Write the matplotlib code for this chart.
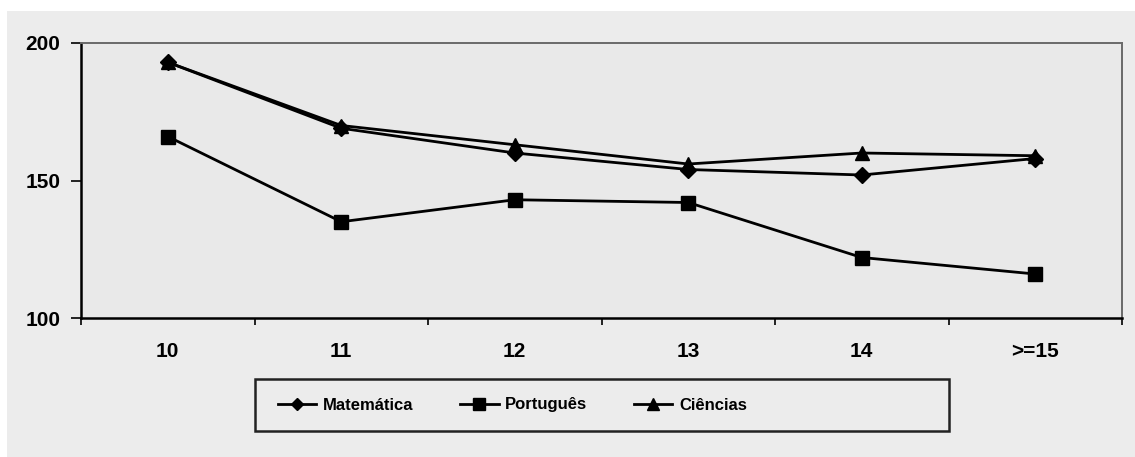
import matplotlib
import numpy as np
from matplotlib.patches import Rectangle

matplotlib.use("Agg")
import matplotlib.pyplot as plt

categories = ["10", "11", "12", "13", "14", ">=15"]
matematica = [193, 169, 160, 154, 152, 158]
portugues = [166, 135, 143, 142, 122, 116]
ciencias = [193, 170, 163, 156, 160, 159]

plt.rcParams["font.family"] = ["Liberation Sans", "DejaVu Sans"]
plt.rcParams["font.weight"] = "bold"

W, H = 1135, 457
fig = plt.figure(figsize=(W / 100, H / 100), dpi=100, facecolor="white")

# scanned page area
fig.patches.append(Rectangle((7 / W, 0), 1, 1 - 11 / H, transform=fig.transFigure,
                             facecolor="#ececec", edgecolor="none", zorder=-10))

axis = fig.add_axes([81 / W, 1 - 318 / H, (1122 - 81) / W, (318 - 43) / H])
axis.set_facecolor("#e9e9e9")

x = np.arange(len(categories))
axis.plot(x, matematica, color="black", linewidth=2.0, marker="D", markersize=8,
          label="Matemática", zorder=3)
axis.plot(x, portugues, color="black", linewidth=2.0, marker="s", markersize=10,
          label="Português", zorder=3)
axis.plot(x, ciencias, color="black", linewidth=2.0, marker="^", markersize=10,
          label="Ciências", zorder=3)

axis.set_xlim(-0.5, len(categories) - 0.5)
axis.set_ylim(100, 200)
axis.set_yticks([100, 150, 200])
axis.set_xticks(np.arange(len(categories) + 1) - 0.5)
axis.set_xticklabels([])
axis.set_xticks(x, minor=True)
axis.set_xticklabels(categories, minor=True)
axis.tick_params(axis="x", which="minor", length=0, pad=17, labelsize=15)
axis.tick_params(axis="x", which="major", length=5, width=1.2, direction="out")
axis.tick_params(axis="y", length=7, width=1.2, pad=8, labelsize=15)

for side in ["left", "bottom"]:
  axis.spines[side].set_linewidth(1.8)
  axis.spines[side].set_color("black")
for side in ["top", "right"]:
  axis.spines[side].set_linewidth(1.4)
  axis.spines[side].set_color("#6a6a6a")

# legend box
fig.patches.append(Rectangle((255 / W, 1 - 431 / H), (949 - 255) / W, (431 - 379) / H,
                             transform=fig.transFigure, facecolor="none",
                             edgecolor="#222222", linewidth=1.8, zorder=5))
fig.legend(
  loc="center left",
  bbox_to_anchor=(278 / W, 1 - 405 / H),
  frameon=False,
  ncols=3,
  fontsize=12,
  handlelength=2.3,
  handletextpad=0.4,
  columnspacing=2.8,
  borderpad=0,
  borderaxespad=0,
  markerscale=0.8,
)

fig.savefig("out.png", dpi=100)
